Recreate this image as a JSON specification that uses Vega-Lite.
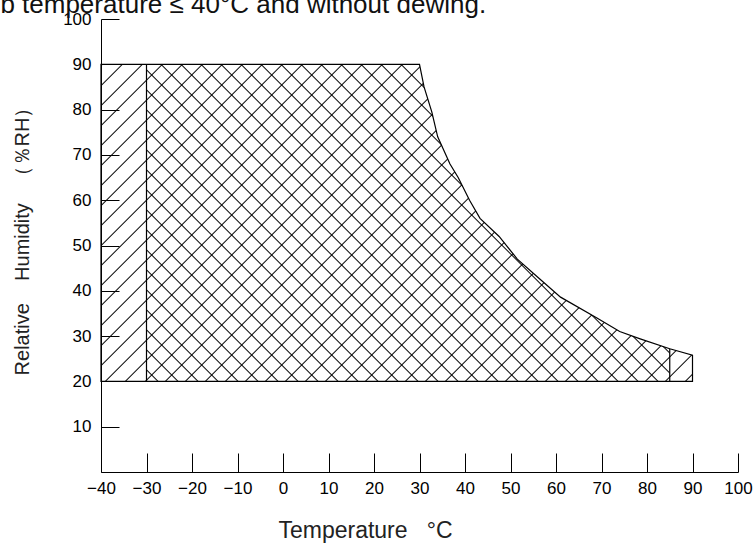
{
  "$schema": "https://vega.github.io/schema/vega-lite/v6.json",
  "width": 637,
  "height": 453,
  "autosize": {"type": "none"},
  "padding": {"left": 101, "top": 19, "right": 17, "bottom": 71},
  "background": "white",
  "config": {"view": {"stroke": null}},
  "title": {
    "text": "wet bulb temperature ≤ 40°C and without dewing.",
    "anchor": "start",
    "frame": "group",
    "dx": -183,
    "dy": 36,
    "offset": 7,
    "baseline": "alphabetic",
    "font": "Liberation Sans",
    "fontSize": 26,
    "fontWeight": "normal",
    "color": "#111"
  },
  "data": {
    "values": [
      {"temp": -40, "rh": 90, "base": 20},
      {"temp": -30, "rh": 90, "base": 20},
      {"temp": 30, "rh": 90, "base": 20},
      {"temp": 31, "rh": 85, "base": 20},
      {"temp": 32.7, "rh": 79.5, "base": 20},
      {"temp": 34, "rh": 74, "base": 20},
      {"temp": 36.7, "rh": 68, "base": 20},
      {"temp": 38.5, "rh": 65, "base": 20},
      {"temp": 41, "rh": 60, "base": 20},
      {"temp": 43.3, "rh": 56, "base": 20},
      {"temp": 47.5, "rh": 52, "base": 20},
      {"temp": 51.5, "rh": 47, "base": 20},
      {"temp": 56, "rh": 43, "base": 20},
      {"temp": 61, "rh": 38.6, "base": 20},
      {"temp": 69, "rh": 34, "base": 20},
      {"temp": 74, "rh": 31, "base": 20},
      {"temp": 78.5, "rh": 29.4, "base": 20},
      {"temp": 85, "rh": 27.2, "base": 20},
      {"temp": 90, "rh": 25.8, "base": 20}
    ]
  },
  "encoding": {
    "x": {
      "field": "temp",
      "type": "quantitative",
      "scale": {"domain": [-40, 100], "nice": false, "zero": false},
      "axis": {
        "values": [-40, -30, -20, -10, 0, 10, 20, 30, 40, 50, 60, 70, 80, 90, 100],
        "title": "Temperature\u00a0\u00a0\u00a0°C",
        "grid": false,
        "domainColor": "black",
        "tickColor": "black",
        "tickSize": -19,
        "labelPadding": 27,
        "labelFont": "Liberation Sans",
        "labelFontSize": 17,
        "labelColor": "black",
        "labelFlush": false,
        "labelOverlap": false,
        "titleFont": "Liberation Sans",
        "titleFontSize": 23,
        "titleFontWeight": "normal",
        "titleColor": "#222",
        "titleX": 264,
        "titleY": 58,
        "titleAlign": "center",
        "titleBaseline": "middle"
      }
    },
    "y": {
      "field": "rh",
      "type": "quantitative",
      "scale": {"domain": [0, 100], "nice": false, "zero": false},
      "axis": {
        "values": [10, 20, 30, 40, 50, 60, 70, 80, 90, 100],
        "title": "Relative\u00a0\u00a0\u00a0\u00a0Humidity\u00a0\u00a0\u00a0（％RH）",
        "grid": false,
        "domainColor": "black",
        "tickColor": "black",
        "tickSize": -18,
        "labelPadding": 28,
        "labelFont": "Liberation Sans",
        "labelFontSize": 17,
        "labelColor": "black",
        "labelFlush": false,
        "labelOverlap": false,
        "titleFont": "Liberation Sans",
        "titleFontSize": 20,
        "titleFontWeight": "normal",
        "titleColor": "#222",
        "titleX": -79,
        "titleY": 217,
        "titleAngle": -90,
        "titleAlign": "center",
        "titleBaseline": "middle"
      }
    }
  },
  "layer": [
    {
      "mark": {
        "type": "area",
        "fill": {
          "gradient": "linear",
          "x1": 0, "y1": 0, "x2": 1.3132, "y2": 0.704,
          "stops": [
            {"offset": 0, "color": "transparent"}, {"offset": 0.0014, "color": "#000"}, {"offset": 0.0028, "color": "transparent"},
            {"offset": 0.02, "color": "transparent"}, {"offset": 0.0214, "color": "#000"}, {"offset": 0.0228, "color": "transparent"},
            {"offset": 0.04, "color": "transparent"}, {"offset": 0.0414, "color": "#000"}, {"offset": 0.0428, "color": "transparent"},
            {"offset": 0.06, "color": "transparent"}, {"offset": 0.0614, "color": "#000"}, {"offset": 0.0628, "color": "transparent"},
            {"offset": 0.08, "color": "transparent"}, {"offset": 0.0814, "color": "#000"}, {"offset": 0.0828, "color": "transparent"},
            {"offset": 0.1, "color": "transparent"}, {"offset": 0.1014, "color": "#000"}, {"offset": 0.1028, "color": "transparent"},
            {"offset": 0.12, "color": "transparent"}, {"offset": 0.1214, "color": "#000"}, {"offset": 0.1228, "color": "transparent"},
            {"offset": 0.14, "color": "transparent"}, {"offset": 0.1414, "color": "#000"}, {"offset": 0.1428, "color": "transparent"},
            {"offset": 0.16, "color": "transparent"}, {"offset": 0.1614, "color": "#000"}, {"offset": 0.1628, "color": "transparent"},
            {"offset": 0.18, "color": "transparent"}, {"offset": 0.1814, "color": "#000"}, {"offset": 0.1828, "color": "transparent"},
            {"offset": 0.2, "color": "transparent"}, {"offset": 0.2014, "color": "#000"}, {"offset": 0.2028, "color": "transparent"},
            {"offset": 0.22, "color": "transparent"}, {"offset": 0.2214, "color": "#000"}, {"offset": 0.2228, "color": "transparent"},
            {"offset": 0.24, "color": "transparent"}, {"offset": 0.2414, "color": "#000"}, {"offset": 0.2428, "color": "transparent"},
            {"offset": 0.26, "color": "transparent"}, {"offset": 0.2614, "color": "#000"}, {"offset": 0.2628, "color": "transparent"},
            {"offset": 0.28, "color": "transparent"}, {"offset": 0.2814, "color": "#000"}, {"offset": 0.2828, "color": "transparent"},
            {"offset": 0.3, "color": "transparent"}, {"offset": 0.3014, "color": "#000"}, {"offset": 0.3028, "color": "transparent"},
            {"offset": 0.32, "color": "transparent"}, {"offset": 0.3214, "color": "#000"}, {"offset": 0.3228, "color": "transparent"},
            {"offset": 0.34, "color": "transparent"}, {"offset": 0.3414, "color": "#000"}, {"offset": 0.3428, "color": "transparent"},
            {"offset": 0.36, "color": "transparent"}, {"offset": 0.3614, "color": "#000"}, {"offset": 0.3628, "color": "transparent"},
            {"offset": 0.38, "color": "transparent"}, {"offset": 0.3814, "color": "#000"}, {"offset": 0.3828, "color": "transparent"},
            {"offset": 0.4, "color": "transparent"}, {"offset": 0.4014, "color": "#000"}, {"offset": 0.4028, "color": "transparent"},
            {"offset": 0.42, "color": "transparent"}, {"offset": 0.4214, "color": "#000"}, {"offset": 0.4228, "color": "transparent"},
            {"offset": 0.44, "color": "transparent"}, {"offset": 0.4414, "color": "#000"}, {"offset": 0.4428, "color": "transparent"},
            {"offset": 0.46, "color": "transparent"}, {"offset": 0.4614, "color": "#000"}, {"offset": 0.4628, "color": "transparent"},
            {"offset": 0.48, "color": "transparent"}, {"offset": 0.4814, "color": "#000"}, {"offset": 0.4828, "color": "transparent"},
            {"offset": 0.5, "color": "transparent"}, {"offset": 0.5014, "color": "#000"}, {"offset": 0.5028, "color": "transparent"},
            {"offset": 0.52, "color": "transparent"}, {"offset": 0.5214, "color": "#000"}, {"offset": 0.5228, "color": "transparent"},
            {"offset": 0.54, "color": "transparent"}, {"offset": 0.5414, "color": "#000"}, {"offset": 0.5428, "color": "transparent"},
            {"offset": 0.56, "color": "transparent"}, {"offset": 0.5614, "color": "#000"}, {"offset": 0.5628, "color": "transparent"},
            {"offset": 0.58, "color": "transparent"}, {"offset": 0.5814, "color": "#000"}, {"offset": 0.5828, "color": "transparent"},
            {"offset": 0.6, "color": "transparent"}, {"offset": 0.6014, "color": "#000"}, {"offset": 0.6028, "color": "transparent"},
            {"offset": 0.62, "color": "transparent"}, {"offset": 0.6214, "color": "#000"}, {"offset": 0.6228, "color": "transparent"},
            {"offset": 0.64, "color": "transparent"}, {"offset": 0.6414, "color": "#000"}, {"offset": 0.6428, "color": "transparent"},
            {"offset": 0.66, "color": "transparent"}, {"offset": 0.6614, "color": "#000"}, {"offset": 0.6628, "color": "transparent"},
            {"offset": 0.68, "color": "transparent"}, {"offset": 0.6814, "color": "#000"}, {"offset": 0.6828, "color": "transparent"},
            {"offset": 0.7, "color": "transparent"}, {"offset": 0.7014, "color": "#000"}, {"offset": 0.7028, "color": "transparent"},
            {"offset": 0.72, "color": "transparent"}, {"offset": 0.7214, "color": "#000"}, {"offset": 0.7228, "color": "transparent"},
            {"offset": 0.74, "color": "transparent"}, {"offset": 0.7414, "color": "#000"}, {"offset": 0.7428, "color": "transparent"},
            {"offset": 0.76, "color": "transparent"}, {"offset": 0.7614, "color": "#000"}, {"offset": 0.7628, "color": "transparent"},
            {"offset": 0.78, "color": "transparent"}, {"offset": 0.7814, "color": "#000"}, {"offset": 0.7828, "color": "transparent"},
            {"offset": 0.8, "color": "transparent"}, {"offset": 0.8014, "color": "#000"}, {"offset": 0.8028, "color": "transparent"},
            {"offset": 0.82, "color": "transparent"}, {"offset": 0.8214, "color": "#000"}, {"offset": 0.8228, "color": "transparent"},
            {"offset": 0.84, "color": "transparent"}, {"offset": 0.8414, "color": "#000"}, {"offset": 0.8428, "color": "transparent"},
            {"offset": 0.86, "color": "transparent"}, {"offset": 0.8614, "color": "#000"}, {"offset": 0.8628, "color": "transparent"},
            {"offset": 0.88, "color": "transparent"}, {"offset": 0.8814, "color": "#000"}, {"offset": 0.8828, "color": "transparent"},
            {"offset": 0.9, "color": "transparent"}, {"offset": 0.9014, "color": "#000"}, {"offset": 0.9028, "color": "transparent"}
          ]
        }
      },
      "encoding": {"y2": {"field": "base"}}
    },
    {
      "transform": [{"filter": "datum.temp >= -30 && datum.temp <= 85"}],
      "mark": {
        "type": "area",
        "fill": {
          "gradient": "linear",
          "x1": 0, "y1": 1, "x2": 1.3978, "y2": 0.1529,
          "stops": [
            {"offset": 0.0102, "color": "transparent"}, {"offset": 0.0116, "color": "#000"}, {"offset": 0.013, "color": "transparent"},
            {"offset": 0.0302, "color": "transparent"}, {"offset": 0.0316, "color": "#000"}, {"offset": 0.033, "color": "transparent"},
            {"offset": 0.0502, "color": "transparent"}, {"offset": 0.0516, "color": "#000"}, {"offset": 0.053, "color": "transparent"},
            {"offset": 0.0702, "color": "transparent"}, {"offset": 0.0716, "color": "#000"}, {"offset": 0.073, "color": "transparent"},
            {"offset": 0.0902, "color": "transparent"}, {"offset": 0.0916, "color": "#000"}, {"offset": 0.093, "color": "transparent"},
            {"offset": 0.1102, "color": "transparent"}, {"offset": 0.1116, "color": "#000"}, {"offset": 0.113, "color": "transparent"},
            {"offset": 0.1302, "color": "transparent"}, {"offset": 0.1316, "color": "#000"}, {"offset": 0.133, "color": "transparent"},
            {"offset": 0.1502, "color": "transparent"}, {"offset": 0.1516, "color": "#000"}, {"offset": 0.153, "color": "transparent"},
            {"offset": 0.1702, "color": "transparent"}, {"offset": 0.1716, "color": "#000"}, {"offset": 0.173, "color": "transparent"},
            {"offset": 0.1902, "color": "transparent"}, {"offset": 0.1916, "color": "#000"}, {"offset": 0.193, "color": "transparent"},
            {"offset": 0.2102, "color": "transparent"}, {"offset": 0.2116, "color": "#000"}, {"offset": 0.213, "color": "transparent"},
            {"offset": 0.2302, "color": "transparent"}, {"offset": 0.2316, "color": "#000"}, {"offset": 0.233, "color": "transparent"},
            {"offset": 0.2502, "color": "transparent"}, {"offset": 0.2516, "color": "#000"}, {"offset": 0.253, "color": "transparent"},
            {"offset": 0.2702, "color": "transparent"}, {"offset": 0.2716, "color": "#000"}, {"offset": 0.273, "color": "transparent"},
            {"offset": 0.2902, "color": "transparent"}, {"offset": 0.2916, "color": "#000"}, {"offset": 0.293, "color": "transparent"},
            {"offset": 0.3102, "color": "transparent"}, {"offset": 0.3116, "color": "#000"}, {"offset": 0.313, "color": "transparent"},
            {"offset": 0.3302, "color": "transparent"}, {"offset": 0.3316, "color": "#000"}, {"offset": 0.333, "color": "transparent"},
            {"offset": 0.3502, "color": "transparent"}, {"offset": 0.3516, "color": "#000"}, {"offset": 0.353, "color": "transparent"},
            {"offset": 0.3702, "color": "transparent"}, {"offset": 0.3716, "color": "#000"}, {"offset": 0.373, "color": "transparent"},
            {"offset": 0.3902, "color": "transparent"}, {"offset": 0.3916, "color": "#000"}, {"offset": 0.393, "color": "transparent"},
            {"offset": 0.4102, "color": "transparent"}, {"offset": 0.4116, "color": "#000"}, {"offset": 0.413, "color": "transparent"},
            {"offset": 0.4302, "color": "transparent"}, {"offset": 0.4316, "color": "#000"}, {"offset": 0.433, "color": "transparent"},
            {"offset": 0.4502, "color": "transparent"}, {"offset": 0.4516, "color": "#000"}, {"offset": 0.453, "color": "transparent"},
            {"offset": 0.4702, "color": "transparent"}, {"offset": 0.4716, "color": "#000"}, {"offset": 0.473, "color": "transparent"},
            {"offset": 0.4902, "color": "transparent"}, {"offset": 0.4916, "color": "#000"}, {"offset": 0.493, "color": "transparent"},
            {"offset": 0.5102, "color": "transparent"}, {"offset": 0.5116, "color": "#000"}, {"offset": 0.513, "color": "transparent"},
            {"offset": 0.5302, "color": "transparent"}, {"offset": 0.5316, "color": "#000"}, {"offset": 0.533, "color": "transparent"},
            {"offset": 0.5502, "color": "transparent"}, {"offset": 0.5516, "color": "#000"}, {"offset": 0.553, "color": "transparent"},
            {"offset": 0.5702, "color": "transparent"}, {"offset": 0.5716, "color": "#000"}, {"offset": 0.573, "color": "transparent"},
            {"offset": 0.5902, "color": "transparent"}, {"offset": 0.5916, "color": "#000"}, {"offset": 0.593, "color": "transparent"},
            {"offset": 0.6102, "color": "transparent"}, {"offset": 0.6116, "color": "#000"}, {"offset": 0.613, "color": "transparent"},
            {"offset": 0.6302, "color": "transparent"}, {"offset": 0.6316, "color": "#000"}, {"offset": 0.633, "color": "transparent"},
            {"offset": 0.6502, "color": "transparent"}, {"offset": 0.6516, "color": "#000"}, {"offset": 0.653, "color": "transparent"},
            {"offset": 0.6702, "color": "transparent"}, {"offset": 0.6716, "color": "#000"}, {"offset": 0.673, "color": "transparent"},
            {"offset": 0.6902, "color": "transparent"}, {"offset": 0.6916, "color": "#000"}, {"offset": 0.693, "color": "transparent"},
            {"offset": 0.7102, "color": "transparent"}, {"offset": 0.7116, "color": "#000"}, {"offset": 0.713, "color": "transparent"},
            {"offset": 0.7302, "color": "transparent"}, {"offset": 0.7316, "color": "#000"}, {"offset": 0.733, "color": "transparent"},
            {"offset": 0.7502, "color": "transparent"}, {"offset": 0.7516, "color": "#000"}, {"offset": 0.753, "color": "transparent"},
            {"offset": 0.7702, "color": "transparent"}, {"offset": 0.7716, "color": "#000"}, {"offset": 0.773, "color": "transparent"},
            {"offset": 0.7902, "color": "transparent"}, {"offset": 0.7916, "color": "#000"}, {"offset": 0.793, "color": "transparent"},
            {"offset": 0.8102, "color": "transparent"}, {"offset": 0.8116, "color": "#000"}, {"offset": 0.813, "color": "transparent"},
            {"offset": 0.8302, "color": "transparent"}, {"offset": 0.8316, "color": "#000"}, {"offset": 0.833, "color": "transparent"}
          ]
        }
      },
      "encoding": {"y2": {"field": "base"}}
    },
    {
      "mark": {"type": "area", "fill": "transparent", "stroke": "black", "strokeWidth": 1.2},
      "encoding": {"y2": {"field": "base"}}
    },
    {
      "transform": [{"filter": "datum.temp == -30 || datum.temp == 85"}],
      "mark": {"type": "rule", "color": "black", "strokeWidth": 1.2},
      "encoding": {"y2": {"field": "base"}}
    }
  ]
}
